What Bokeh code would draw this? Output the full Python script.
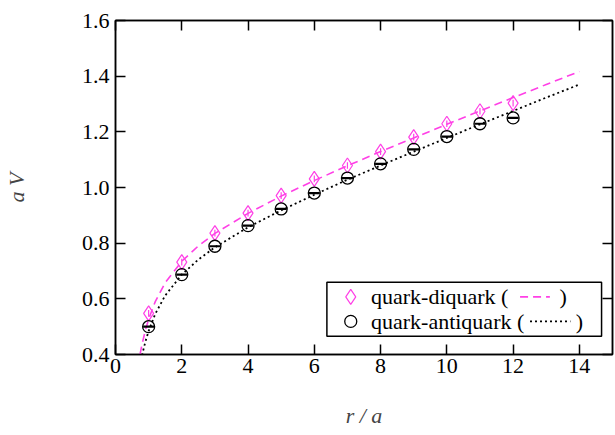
from bokeh.plotting import figure
from bokeh.models import LinearAxis, FixedTicker, BoxAnnotation, Range1d
from bokeh.core.properties import value
from bokeh.embed import file_html
from bokeh.resources import INLINE

# ---- data ----
r_pts = [1, 2, 3, 4, 5, 6, 7, 8, 9, 10, 11, 12]
v_qdq = [0.548, 0.732, 0.836, 0.908, 0.971, 1.031, 1.079, 1.129, 1.181, 1.229, 1.274, 1.303]
e_qdq = [0.012, 0.012, 0.012, 0.012, 0.012, 0.012, 0.012, 0.012, 0.012, 0.012, 0.012, 0.012]
v_qaq = [0.500, 0.687, 0.789, 0.863, 0.923, 0.980, 1.034, 1.085, 1.137, 1.183, 1.229, 1.250]

# fit curves
r_fit_qdq = [0.74, 0.8, 0.9, 1.0, 1.2, 1.5, 2.0, 2.5, 3, 4, 5, 6, 7, 8, 9, 10, 11, 12, 13, 14]
v_fit_qdq = [0.400, 0.436, 0.486, 0.527, 0.590, 0.658, 0.735, 0.790, 0.835, 0.907, 0.969,
             1.025, 1.078, 1.129, 1.178, 1.227, 1.275, 1.323, 1.370, 1.417]
r_fit_qaq = [0.80, 0.9, 1.0, 1.2, 1.5, 2.0, 2.5, 3, 4, 5, 6, 7, 8, 9, 10, 11, 12, 13, 14]
v_fit_qaq = [0.397, 0.445, 0.484, 0.546, 0.612, 0.687, 0.741, 0.785, 0.857, 0.918, 0.974,
             1.028, 1.079, 1.129, 1.178, 1.227, 1.275, 1.323, 1.370]

x_ticks = [0, 2, 4, 6, 8, 10, 12, 14]
x_tick_labels = ["0", "2", "4", "6", "8", "10", "12", "14"]
y_ticks = [0.4, 0.6, 0.8, 1.0, 1.2, 1.4, 1.6]
y_tick_labels = ["0.4", "0.6", "0.8", "1.0", "1.2", "1.4", "1.6"]
legend_labels = ["quark-diquark (", "quark-antiquark ("]
x_title = "r / a"
y_title = "a V"

MAG = "#ff40e6"
FONT = "Liberation Serif"
FS = "22px"

p = figure(width=615, height=435, x_range=Range1d(0, 15), y_range=Range1d(0.4, 1.6),
           output_backend="svg", toolbar_location=None,
           min_border_left=113, min_border_right=3, min_border_top=20, min_border_bottom=81)
p.grid.visible = False
p.outline_line_color = "black"
p.outline_line_width = 1.5
p.background_fill_color = "white"
p.border_fill_color = "white"

def style_axis(ax, labels=True):
    ax.axis_line_width = 1.5
    ax.axis_line_color = "black"
    ax.major_tick_in = 10
    ax.major_tick_out = 0
    ax.major_tick_line_width = 1.5
    ax.minor_tick_line_color = None
    ax.major_label_text_font = FONT
    if labels:
        ax.major_label_text_font_size = FS
        ax.major_label_text_color = "black"
    else:
        ax.major_label_text_font_size = "1px"
        ax.major_label_text_color = None
        ax.major_label_standoff = 0

xa = p.xaxis[0]
ya = p.yaxis[0]
xa.ticker = FixedTicker(ticks=x_ticks)
ya.ticker = FixedTicker(ticks=y_ticks)
xa.major_label_overrides = dict(zip(x_ticks, x_tick_labels))
ya.major_label_overrides = dict(zip(y_ticks, y_tick_labels))
style_axis(xa)
style_axis(ya)
xa.major_label_standoff = 4
ya.major_label_standoff = 6
xa.axis_label = x_title
ya.axis_label = y_title
for ax in (xa, ya):
    ax.axis_label_text_font = FONT
    ax.axis_label_text_font_style = "italic"
    ax.axis_label_text_font_size = FS
xa.axis_label_standoff = 27
ya.axis_label_standoff = 50

top = LinearAxis(ticker=FixedTicker(ticks=x_ticks))
right = LinearAxis(ticker=FixedTicker(ticks=y_ticks))
style_axis(top, labels=False)
style_axis(right, labels=False)
p.add_layout(top, "above")
p.add_layout(right, "right")

# hand-made legend box (drawn beneath the marks)
LX0, LX1, LY0, LY1 = 6.38, 14.67, 0.466, 0.660
p.add_layout(BoxAnnotation(left=LX0, right=LX1, bottom=LY0, top=LY1,
                           fill_color="white", fill_alpha=1.0,
                           line_color="black", line_alpha=1.0, line_width=1.5,
                           level="underlay"))

# fit curves
p.line(r_fit_qdq, v_fit_qdq, line_color=MAG, line_width=1.6, line_dash="8 5")
p.line(r_fit_qaq, v_fit_qaq, line_color="black", line_width=1.8, line_dash="2 3")

# data
p.segment(r_pts, [v - e for v, e in zip(v_qdq, e_qdq)], r_pts,
          [v + e for v, e in zip(v_qdq, e_qdq)], line_color=MAG, line_width=1.2)
p.scatter(r_pts, v_qdq, marker="diamond", size=15, fill_color=None,
          line_color=MAG, line_width=1.2)
p.scatter(r_pts, v_qaq, marker="circle", size=12, fill_color=None,
          line_color="black", line_width=1.3)
p.scatter(r_pts, v_qaq, marker="dash", size=11, line_color="black", line_width=2.2)

# legend entries
row1, row2 = 0.607, 0.519
p.scatter([7.10], [row1], marker="diamond", size=15, fill_color=None,
          line_color=MAG, line_width=1.2)
p.scatter([7.10], [row2], marker="circle", size=12, fill_color=None,
          line_color="black", line_width=1.3)
p.text([7.71, 7.71], [row1, row2], text=legend_labels,
       text_font=value(FONT), text_font_size=FS, text_baseline="middle",
       text_align="left", text_color="black")
p.line([12.21, 13.11], [row1, row1], line_color=MAG, line_width=1.6, line_dash="8 5")
p.line([12.51, 13.73], [row2, row2], line_color="black", line_width=1.8, line_dash="2 3")
p.text([13.40, 13.89], [row1, row2], text=[")", ")"],
       text_font=value(FONT), text_font_size=FS, text_baseline="middle",
       text_align="left", text_color="black")

open("out.html", "w").write(file_html(p, INLINE))
